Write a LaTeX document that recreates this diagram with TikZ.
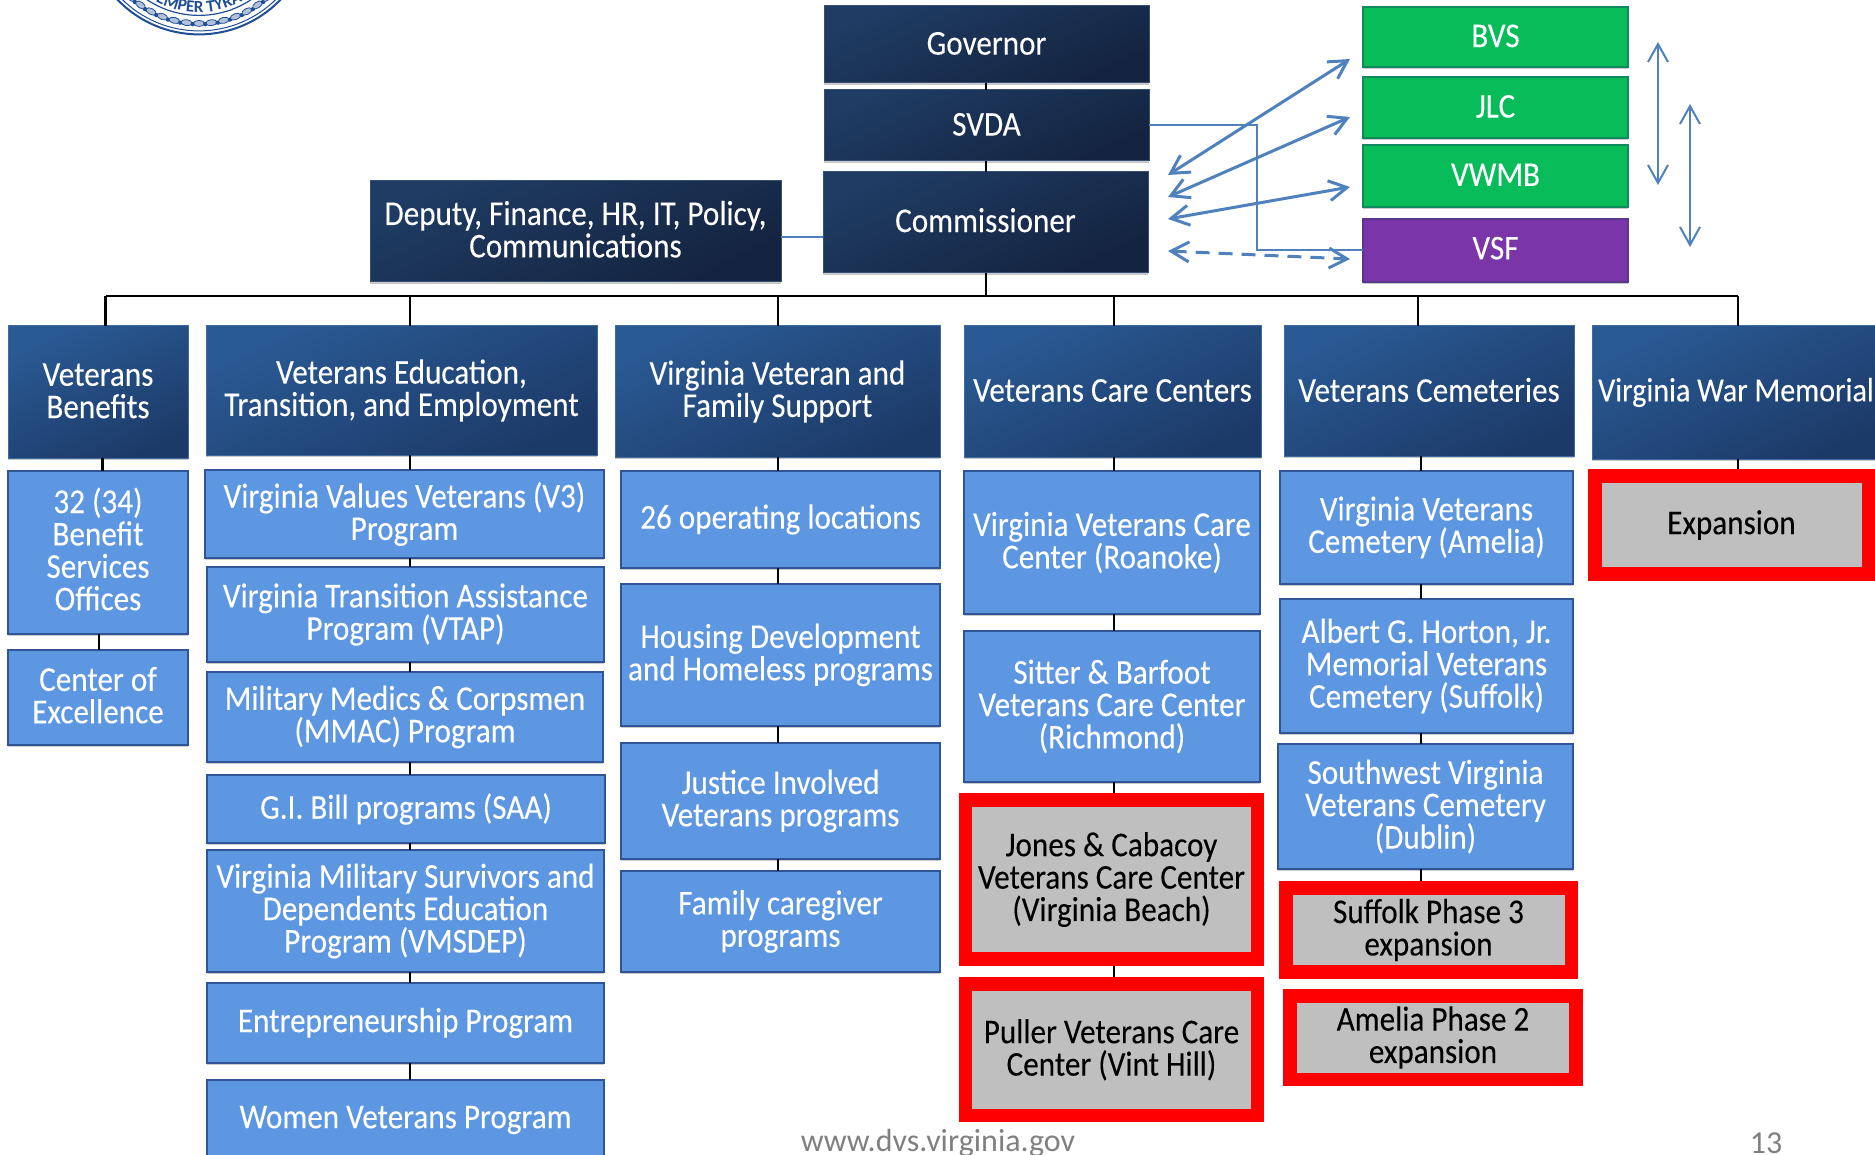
\documentclass[tikz,border=0pt]{standalone}
\usepackage{fontspec}
\setmainfont{Carlito}
\newfontfamily\boxfont[FakeStretch=0.895,FakeBold=0.12]{Carlito}
\usepackage{tikz}
\usetikzlibrary{arrows.meta,shadows,decorations.text}
\definecolor{navyA}{HTML}{1F3C64}
\definecolor{navyB}{HTML}{14233F}
\definecolor{headA}{HTML}{2A5A94}
\definecolor{headB}{HTML}{1C3A68}
\definecolor{paleblue}{HTML}{5E97E1}
\definecolor{paleedge}{HTML}{2F5597}
\definecolor{greenbox}{HTML}{08BC59}
\definecolor{purplebox}{HTML}{7A35A8}
\definecolor{linkblue}{HTML}{4F81BD}
\definecolor{sealblue}{HTML}{1F4E96}
\tikzset{
  sz/.style 2 args={minimum width=#1*.5pt, minimum height=#2*.5pt},
  box/.style={inner sep=0pt, outer sep=0pt, align=center, text=white,
    font=\boxfont\fontsize{17.4}{16.2}\selectfont},
  lift/.style={text depth=#1},
  soft/.style={drop shadow={shadow xshift=0pt, shadow yshift=-1.2pt, opacity=.3, fill=black!70}},
  navy/.style={box, soft, draw=navyA!90!white, line width=.5pt, top color=navyA, bottom color=navyB, shading angle=25},
  head/.style={box, soft, draw=headA!90!white, line width=.5pt, top color=headA, bottom color=headB, shading angle=25},
  pale/.style={box, soft, draw=paleedge, line width=1pt, fill=paleblue},
  greenb/.style={box, soft, draw=greenbox!60!navyA, line width=1pt, fill=greenbox},
  purpleb/.style={box, soft, draw=purplebox!60!navyA, line width=1pt, fill=purplebox},
  redb/.style={box, draw=red, line width=6.75pt, outer sep=3.375pt, fill=black!25, text=black},
  tie/.style={draw=black, line width=1.2pt},
  link/.style={draw=linkblue, line width=1pt},
  twoway/.style={draw=linkblue, line width=#1, {Straight Barb[length=9pt,width=10pt]}-{Straight Barb[length=9pt,width=10pt]}},
  foot/.style={inner sep=0pt, text=black!50, font=\fontsize{16}{16}\selectfont},
}
\begin{document}
\begin{tikzpicture}[x=.5pt,y=-.5pt]
\useasboundingbox (0,0) rectangle (1875,1155);
%---------------------------------- seal
\begin{scope}
\clip (90,0) rectangle (310,40);
\draw[sealblue, line width=1pt] (199,-78.6) circle (113);
\draw[sealblue, line width=.5pt] (199,-78.6) circle (109.5);
\draw[sealblue, line width=.6pt] (199,-78.6) circle (94);
\foreach \a in {228,235,...,312} {
  \draw[sealblue, line width=.4pt, fill=sealblue!35, rotate around={\a:(199,-78.6)}]
    (301,-78.6) ellipse (3 and 5.5);
  \fill[sealblue, rotate around={\a+3.5:(199,-78.6)}] (302,-78.6) circle (2.2);
}
\path[decorate, decoration={text along path, text align=center,
    text={|\bfseries\fontsize{8.5}{8.5}\selectfont\color{sealblue}|EMPER TYRA}}]
  (199,-78.6) ++(150:91) arc[start angle=150, end angle=30, radius=91];
\end{scope}
%---------------------------------- top
\node[navy, lift=1.2pt, sz={325}{77}] (governor) at (986.5,44.5) {Governor};
\node[navy, lift=1.2pt, sz={325}{71}] (svda) at (986.5,125.5) {SVDA};
\node[navy, lift=2.4pt, sz={325}{101}] (commissioner) at (985.5,222.5) {Commissioner};
\node[navy, lift=2.4pt, sz={411}{101}] (deputy) at (575.5,231.5) {Deputy, Finance, HR, IT, Policy,\\Communications};
%---------------------------------- boards
\node[greenb, lift=1.2pt, sz={265}{60}] (bvs) at (1495.5,37) {BVS};
\node[greenb, lift=1.2pt, sz={265}{61}] (jlc) at (1495.5,107.5) {JLC};
\node[greenb, lift=1.2pt, sz={265}{62}] (vwmb) at (1495.5,176) {VWMB};
\node[purpleb, lift=2.4pt, sz={265}{63}] (vsf) at (1495.5,250.5) {VSF};
%---------------------------------- column heads
\node[head, lift=1.2pt, sz={180}{132}] (benefits) at (98,392) {Veterans\\Benefits};
\node[head, sz={391}{129}] (education) at (401.5,390.5) {Veterans Education,\\Transition, and Employment};
\node[head, sz={325}{131}] (family) at (777.5,391.5) {Virginia Veteran and\\Family Support};
\node[head, lift=1.2pt, sz={297}{131}] (care) at (1112.5,391.5) {Veterans Care Centers};
\node[head, lift=1.2pt, sz={290}{130}] (cemeteries) at (1429,391) {Veterans Cemeteries};
\node[head, font=\boxfont\fontsize{16.8}{16.2}\selectfont, sz={288}{133}] (memorial) at (1736,392.5) {Virginia War Memorial};
%---------------------------------- benefits
\node[pale, lift=3.6pt, sz={180}{163}] (offices) at (98,552.5) {32 (34)\\Benefit\\Services\\Offices};
\node[pale, lift=2.4pt, sz={180}{95}] (excellence) at (98,697.5) {Center of\\Excellence};
%---------------------------------- education
\node[pale, sz={399}{88}] (vthree) at (404.5,514) {Virginia Values Veterans (V3)\\Program};
\node[pale, sz={397}{95}] (vtap) at (405.5,614.5) {Virginia Transition Assistance\\Program (VTAP)};
\node[pale, sz={396}{90}] (mmac) at (405,717) {Military Medics \& Corpsmen\\(MMAC) Program};
\node[pale, sz={398}{68}] (gibill) at (406,809) {G.I. Bill programs (SAA)};
\node[pale, sz={397}{122}] (vmsdep) at (405.5,911) {Virginia Military Survivors and\\Dependents Education\\Program (VMSDEP)};
\node[pale, sz={397}{80}] (entre) at (405.5,1023) {Entrepreneurship Program};
\node[pale, sz={397}{80}] (women) at (405.5,1120) {Women Veterans Program};
%---------------------------------- family support
\node[pale, sz={319}{97}] (locations) at (780.5,519.5) {26 operating locations};
\node[pale, sz={319}{142}] (housing) at (780.5,655) {Housing Development\\and Homeless programs};
\node[pale, sz={319}{116}] (justice) at (780.5,801) {Justice Involved\\Veterans programs};
\node[pale, sz={319}{101}] (caregiver) at (780.5,921.5) {Family caregiver\\programs};
%---------------------------------- care centers
\node[pale, sz={296}{143}] (roanoke) at (1112,542.5) {Virginia Veterans Care\\Center (Roanoke)};
\node[pale, sz={296}{151}] (sitter) at (1112,706.5) {Sitter \& Barfoot\\Veterans Care Center\\(Richmond)};
\node[redb, sz={292}{159}] (jones) at (1111.5,879.5) {Jones \& Cabacoy\\Veterans Care Center\\(Virginia Beach)};
\node[redb, sz={292}{131.5}] (puller) at (1111.5,1049.75) {Puller Veterans Care\\Center (Vint Hill)};
%---------------------------------- cemeteries
\node[pale, sz={293}{113}] (amelia) at (1426.5,527.5) {Virginia Veterans\\Cemetery (Amelia)};
\node[pale, sz={293}{134}] (horton) at (1426.5,666) {Albert G. Horton, Jr.\\Memorial Veterans\\Cemetery (Suffolk)};
\node[pale, sz={295}{125}] (dublin) at (1425.5,806.5) {Southwest Virginia\\Veterans Cemetery\\(Dublin)};
\node[redb, sz={285.5}{84}] (suffolk) at (1428.5,930) {Suffolk Phase 3\\expansion};
\node[redb, sz={286}{83.5}] (phasetwo) at (1433,1037.5) {Amelia Phase 2\\expansion};
%---------------------------------- memorial
\node[redb, sz={273.5}{98}] (expansion) at (1731.5,525) {Expansion};
%---------------------------------- footer
\node[foot] (url) at (938,1143.4) {www.dvs.virginia.gov};
\node[foot] (page) at (1766,1143.4) {13};
%---------------------------------- bus
\coordinate (busB) at (105.5,296);
\coordinate (busE) at (410,296);
\coordinate (busF) at (778,296);
\coordinate (busK) at (986,296);
\coordinate (busC) at (1114,296);
\coordinate (busV) at (1418,296);
\coordinate (busM) at (1738,296);
\draw[tie] (busB) -- (busM);
\draw[tie] (busK |- governor.south) -- (busK |- svda.north);
\draw[tie] (busK |- svda.south) -- (busK |- commissioner.north);
\draw[tie] (busK |- commissioner.south) -- (busK);
\foreach \b/\h in {busB/benefits,busE/education,busF/family,busC/care,busV/cemeteries,busM/memorial}
  \draw[tie] (\b) -- (\b |- \h.north);
%---------------------------------- column ties
\coordinate (tieB) at (102.5,465);
\coordinate (tieO) at (99,640);
\coordinate (tieV) at (1421,465);
\draw[tie] (tieB |- benefits.south) -- (tieB |- offices.north);
\draw[tie] (tieO |- offices.south) -- (tieO |- excellence.north);
\draw[tie] (busE |- education.south) -- (busE |- vthree.north);
\foreach \a/\b in {vthree/vtap,vtap/mmac,mmac/gibill,gibill/vmsdep,vmsdep/entre,entre/women}
  \draw[tie] (busE |- \a.south) -- (busE |- \b.north);
\draw[tie] (busF |- family.south) -- (busF |- locations.north);
\foreach \a/\b in {locations/housing,housing/justice,justice/caregiver}
  \draw[tie] (busF |- \a.south) -- (busF |- \b.north);
\draw[tie] (busC |- care.south) -- (busC |- roanoke.north);
\draw[tie] (busC |- roanoke.south) -- (busC |- sitter.north);
\draw[tie] (busC |- sitter.south) -- (busC |- jones.north);
\draw[tie] (busC |- jones.south) -- (busC |- puller.north);
\draw[tie] (tieV |- cemeteries.south) -- (tieV |- amelia.north);
\draw[tie] (tieV |- amelia.south) -- (tieV |- horton.north);
\draw[tie] (tieV |- horton.south) -- (tieV |- dublin.north);
\draw[tie] (tieV |- dublin.south) -- (tieV |- suffolk.north);
\draw[tie] (busM |- memorial.south) -- (busM |- expansion.north);
%---------------------------------- blue links
\coordinate (depY) at (800,237);
\draw[link] (depY -| deputy.east) -- (depY -| commissioner.west);
\draw[link] (svda.east) -- ++(108,0) |- (vsf.west);
\coordinate (arA) at (1168,175);
\coordinate (arB) at (1350,59);
\coordinate (arC) at (1168,197);
\coordinate (arD) at (1350,117);
\coordinate (arE) at (1168,219);
\coordinate (arF) at (1350,187);
\coordinate (arG) at (1168,251);
\coordinate (arH) at (1350,259);
\draw[twoway=1.5pt] (arA) -- (arB);
\draw[twoway=1.5pt] (arC) -- (arD);
\draw[twoway=1.5pt] (arE) -- (arF);
\draw[twoway=1.5pt, dash pattern=on 7pt off 4.5pt] (arG) -- (arH);
\coordinate (upA) at (1658,42);
\coordinate (dnA) at (1658,185);
\coordinate (upB) at (1690,104);
\coordinate (dnB) at (1690,247);
\draw[twoway=1pt] (upA) -- (dnA);
\draw[twoway=1pt] (upB) -- (dnB);
\end{tikzpicture}
\end{document}
